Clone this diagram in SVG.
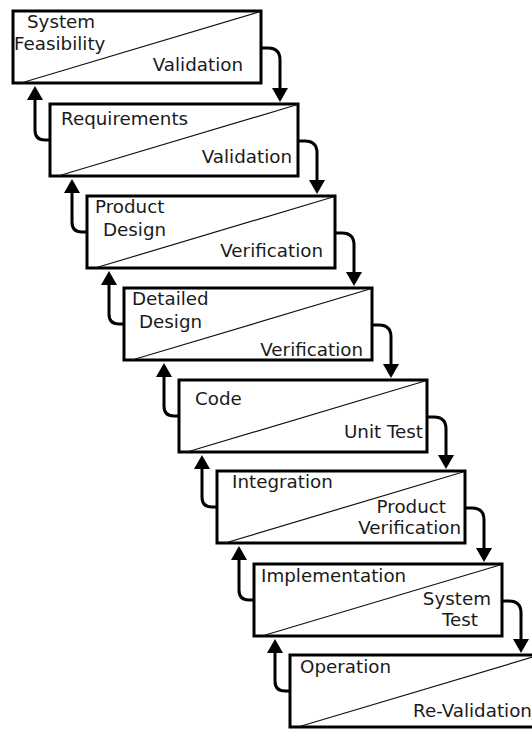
<svg xmlns="http://www.w3.org/2000/svg" width="532" height="729" viewBox="0 0 532 729">
<style>
.box{fill:#fff;stroke:#000;stroke-width:3}
.diag{stroke:#111;stroke-width:1.2;fill:none}
.t{font-family:"DejaVu Sans","Verdana","Liberation Sans",sans-serif;font-size:18.3px;fill:#1a1a1a}
.e{text-anchor:end}
.conn{fill:none;stroke:#000;stroke-width:3;marker-end:url(#ah)}
</style>
<defs>
<marker id="ah" viewBox="0 0 14 16" refX="0" refY="8" markerWidth="14" markerHeight="16" markerUnits="userSpaceOnUse" orient="auto">
<path d="M0,0 L14,8 L0,16 z" fill="#000"/>
</marker>
</defs>
<rect width="532" height="729" fill="#fff"/>
<g id="n1"><rect class="box" x="13" y="11" width="248" height="72"/><line class="diag" x1="21" y1="83" x2="259" y2="12"/>
<text class="t" x="27" y="28">System</text><text class="t" x="14" y="50">Feasibility</text><text class="t e" x="243" y="71">Validation</text></g>
<g id="n2"><rect class="box" x="50" y="104" width="248" height="72"/><line class="diag" x1="58" y1="176" x2="296" y2="105"/>
<text class="t" x="61" y="125">Requirements</text><text class="t e" x="292" y="163">Validation</text></g>
<g id="n3"><rect class="box" x="87" y="196" width="248" height="72"/><line class="diag" x1="95" y1="268" x2="333" y2="197"/>
<text class="t" x="95" y="213">Product</text><text class="t" x="103" y="236">Design</text><text class="t e" x="323" y="257">Verification</text></g>
<g id="n4"><rect class="box" x="124" y="288" width="248" height="72"/><line class="diag" x1="132" y1="360" x2="370" y2="289"/>
<text class="t" x="132" y="305">Detailed</text><text class="t" x="139" y="328">Design</text><text class="t e" x="363" y="356">Verification</text></g>
<g id="n5"><rect class="box" x="179" y="380" width="248" height="72"/><line class="diag" x1="187" y1="452" x2="425" y2="381"/>
<text class="t" x="195" y="405">Code</text><text class="t e" x="423" y="438">Unit Test</text></g>
<g id="n6"><rect class="box" x="217" y="471" width="248" height="72"/><line class="diag" x1="225" y1="543" x2="463" y2="472"/>
<text class="t" x="232" y="488">Integration</text><text class="t e" x="446" y="513">Product</text><text class="t e" x="461" y="534">Verification</text></g>
<g id="n7"><rect class="box" x="254" y="564" width="248" height="72"/><line class="diag" x1="262" y1="636" x2="500" y2="565"/>
<text class="t" x="261" y="582">Implementation</text><text class="t e" x="491" y="605">System</text><text class="t e" x="478" y="626">Test</text></g>
<g id="n8"><rect class="box" x="290" y="655" width="248" height="72"/><line class="diag" x1="298" y1="727" x2="536" y2="656"/>
<text class="t" x="300" y="673">Operation</text><text class="t" x="413" y="717">Re-Validation</text></g>
<g id="connectors">
<path class="conn" d="M261,48 H268 Q280,48 280,60 V88"/>
<path class="conn" d="M298,141 H305 Q317,141 317,153 V180"/>
<path class="conn" d="M335,233 H342 Q354,233 354,245 V272"/>
<path class="conn" d="M372,325 H379 Q391,325 391,337 V364"/>
<path class="conn" d="M427,417 H434 Q446,417 446,429 V455"/>
<path class="conn" d="M465,508 H472 Q484,508 484,520 V548"/>
<path class="conn" d="M502,601 H509 Q521,601 521,613 V639"/>
<path class="conn" d="M50,140 H45 Q35,140 35,130 V100"/>
<path class="conn" d="M87,232 H82 Q72,232 72,222 V193"/>
<path class="conn" d="M124,324 H119 Q109,324 109,314 V285"/>
<path class="conn" d="M179,416 H174 Q164,416 164,406 V377"/>
<path class="conn" d="M217,507 H212 Q202,507 202,497 V469"/>
<path class="conn" d="M254,600 H249 Q239,600 239,590 V560"/>
<path class="conn" d="M290,691 H285 Q275,691 275,681 V653"/>
</g>
</svg>
